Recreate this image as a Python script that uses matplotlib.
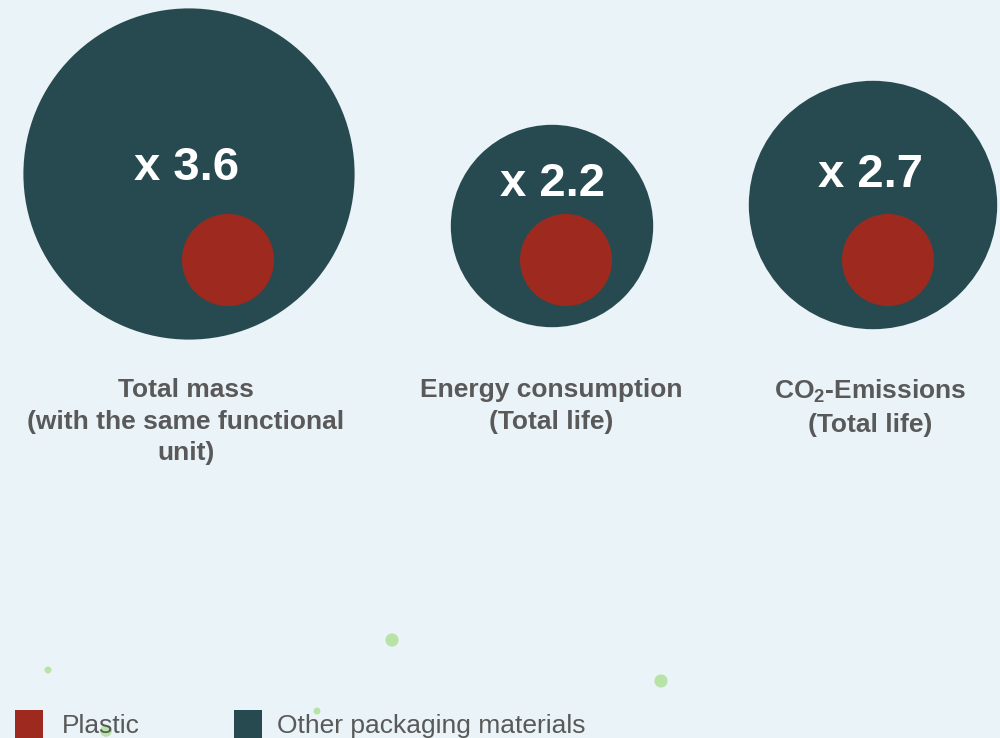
import matplotlib
matplotlib.use("Agg")
import matplotlib.pyplot as plt
from matplotlib.patches import Circle, Rectangle

plt.rcParams['font.family'] = ['Liberation Sans', 'DejaVu Sans']
plt.rcParams['mathtext.fontset'] = 'custom'
plt.rcParams['mathtext.rm'] = 'Liberation Sans'
plt.rcParams['mathtext.bf'] = 'Liberation Sans:bold'

# data
categories = ["Total mass\n(with the same functional\nunit)",
              "Energy consumption\n(Total life)",
              r"$\mathbf{CO_2}$-Emissions" + "\n(Total life)"]
factors = [3.6, 2.2, 2.7]          # other packaging relative to plastic
factor_labels = ["x 3.6", "x 2.2", "x 2.7"]
legend_labels = ["Plastic", "Other packaging materials"]

# decorative green specks in the source picture
speck_x = [48, 392, 661, 317, 106]
speck_y = [670, 640, 681, 711, 731]
speck_s = [25, 90, 90, 25, 70]

# layout (pixel space)
base_r = 46
big_cx = [189, 552, 873]
big_cy = [174, 226, 205]
small_cx = [228, 566, 888]
small_cy = [260, 260, 260]
fac_xy = [(187, 168), (553, 184), (870, 175)]
lab_x = [186, 551, 870]

bg = "#EAF3F7"
teal = "#264A50"
red = "#9E2A1F"
grey = "#595959"

fig = plt.figure(figsize=(10, 7.38), dpi=100, facecolor=bg)
ax = fig.add_axes([0, 0, 1, 1])
ax.set_facecolor(bg)
ax.set_xlim(0, 1000)
ax.set_ylim(738, 0)
ax.set_aspect("equal")
ax.axis("off")

for i, f in enumerate(factors):
    ax.add_patch(Circle((big_cx[i], big_cy[i]), base_r * f, color=teal, lw=0))
    ax.add_patch(Circle((small_cx[i], small_cy[i]), base_r, color=red, lw=0))
    ax.text(fac_xy[i][0], fac_xy[i][1], factor_labels[i], color="white",
            fontsize=34, fontweight="bold", ha="center", va="center")
    ax.text(lab_x[i], 378, categories[i], color=grey, fontsize=19,
            fontweight="bold", ha="center", va="top", linespacing=1.4)

ax.scatter(speck_x, speck_y, s=speck_s, color="#B8E3A6", lw=0, zorder=3)

# legend
ax.add_patch(Rectangle((15, 710), 28, 30, color=red, lw=0))
ax.text(62, 726, legend_labels[0], color=grey, fontsize=19, va="center")
ax.add_patch(Rectangle((234, 710), 28, 30, color=teal, lw=0))
ax.text(277, 726, legend_labels[1], color=grey, fontsize=19, va="center")

fig.savefig("out.png", dpi=100, facecolor=bg)
